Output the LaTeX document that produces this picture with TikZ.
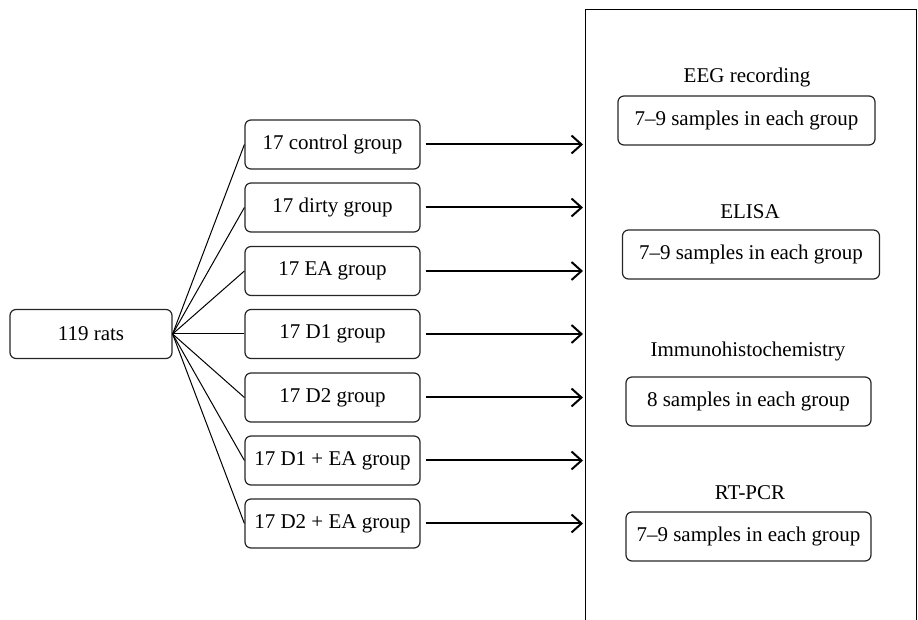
\documentclass[tikz,border=0pt]{standalone}
\usepackage{fontspec}
\setmainfont{Liberation Serif}
\usetikzlibrary{positioning}
\usetikzlibrary{arrows.meta}

\tikzset{
  box/.style={draw=black!85, rounded corners=3pt, line width=0.6pt,
    minimum width=87.5pt, minimum height=24.5pt, inner sep=0pt},
  sample/.style={box, minimum width=128.5pt},
  fan/.style={line width=0.5pt},
  flow/.style={line width=1pt, shorten <=2.5pt,
    -{Straight Barb[length=5pt,width=9pt,line width=1pt]}}
}

\begin{document}
\begin{tikzpicture}[x=0.5pt, y=-0.5pt, font=\fontsize{10.5}{12}\selectfont]
\clip (0,0) rectangle (918,620);

% outer panel, open at the bottom
\node[draw, line width=0.5pt, minimum width=165.5pt, minimum height=315pt, inner sep=0pt] (panel) at (750.5,325) {};

% source
\node[box, minimum width=81pt] (rats) at (91,334) {119 rats};

% groups
\foreach \i/\y/\txt in {1/144.5/17 control group, 2/207.5/17 dirty group, 3/271/17 EA group,
  4/334/17 D1 group, 5/397.5/17 D2 group, 6/460.5/17 D1 + EA group, 7/523.5/17 D2 + EA group}
{
  \node[box] (g\i) at (332.5,\y) {\txt};
  \coordinate (t\i) at (583,\y);
  \draw[fan] (rats.east) -- (g\i.west);
  \draw[flow] (g\i.east) -- (t\i);
}

% analyses
\node (eeg) at (747,77) {EEG recording};
\node[sample] (s1) at (746.5,120.5) {7--9 samples in each group};
\node (elisa) at (750,212) {ELISA};
\node[sample] (s2) at (751,254.5) {7--9 samples in each group};
\node (ihc) at (748,351) {Immunohistochemistry};
\node[sample, minimum width=122.5pt] (s3) at (748.5,401.5) {8 samples in each group};
\node (pcr) at (750,493) {RT-PCR};
\node[sample, minimum width=122.5pt] (s4) at (748.5,536.5) {7--9 samples in each group};

\end{tikzpicture}
\end{document}
